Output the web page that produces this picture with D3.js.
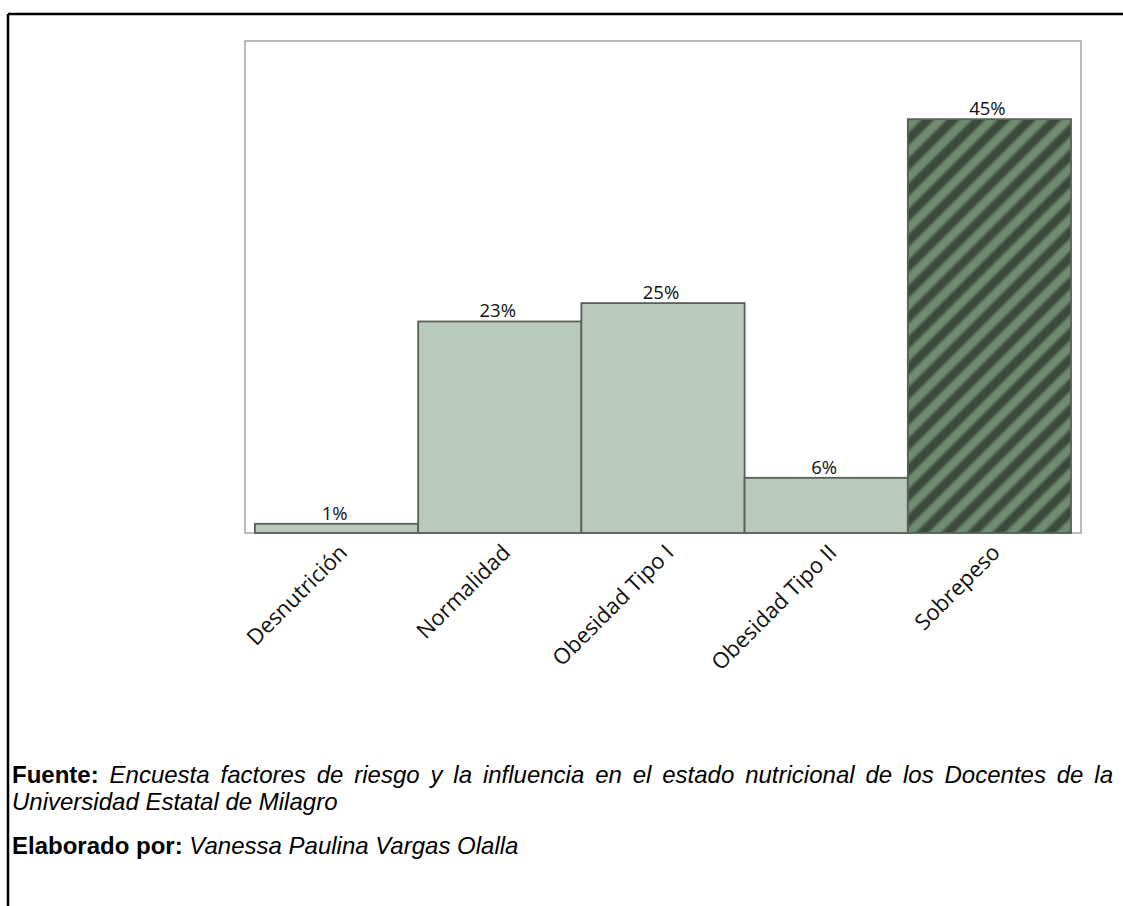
<!DOCTYPE html>
<html>
<head>
<meta charset="utf-8">
<script src="https://cdn.jsdelivr.net/npm/d3@7"></script>
<style>
  html, body { margin: 0; padding: 0; background: #fff; }
  svg { display: block; }
</style>
</head>
<body>
<script>
// Estado nutricional de los docentes (porcentaje)
const categories = ["Desnutrición", "Normalidad", "Obesidad Tipo I", "Obesidad Tipo II", "Sobrepeso"];
const percentages = [1, 23, 25, 6, 45];
const valueLabels = ["1%", "23%", "25%", "6%", "45%"];
const hatched = ["Sobrepeso"];

const W = 1123, H = 906;
const frame = { left: 245, right: 1081, top: 41, bottom: 533 };

const svg = d3.select("body").append("svg")
  .attr("width", W).attr("height", H);

// striped fill for the highlighted category
const defs = svg.append("defs");
const grad = defs.append("linearGradient")
  .attr("id", "stripeGrad").attr("x1", 0).attr("x2", 1).attr("y1", 0).attr("y2", 0);
[[0, "#3b4a3c"], [0.3, "#3b4a3c"], [0.5, "#6f8b70"], [0.8, "#6f8b70"], [1, "#3b4a3c"]]
  .forEach(([o, c]) => grad.append("stop").attr("offset", o).attr("stop-color", c));
const pat = defs.append("pattern")
  .attr("id", "stripes").attr("patternUnits", "userSpaceOnUse")
  .attr("width", 18).attr("height", 18)
  .attr("patternTransform", "rotate(45)");
pat.append("rect").attr("width", 18).attr("height", 18).attr("fill", "url(#stripeGrad)");

// outer page border (left and top)
svg.append("line").attr("x1", 8).attr("y1", 14).attr("x2", W).attr("y2", 14)
  .attr("stroke", "#000").attr("stroke-width", 2.5);
svg.append("line").attr("x1", 8).attr("y1", 14).attr("x2", 8).attr("y2", H)
  .attr("stroke", "#000").attr("stroke-width", 2.5);

const x = d3.scaleBand()
  .domain(categories)
  .range([frame.left, frame.right])
  .paddingInner(0)
  .paddingOuter(0.061);

const y = d3.scaleLinear()
  .domain([0, 53.5])
  .range([frame.bottom, frame.top]);

// plot frame
svg.append("rect")
  .attr("x", frame.left).attr("y", frame.top)
  .attr("width", frame.right - frame.left).attr("height", frame.bottom - frame.top)
  .attr("fill", "none").attr("stroke", "#ababab").attr("stroke-width", 1.6);

// bars
svg.append("g").selectAll("rect")
  .data(categories)
  .join("rect")
  .attr("x", d => x(d))
  .attr("y", (d, i) => y(percentages[i]))
  .attr("width", x.bandwidth())
  .attr("height", (d, i) => y(0) - y(percentages[i]))
  .attr("fill", d => hatched.includes(d) ? "url(#stripes)" : "#b9cabc")
  .attr("stroke", "#586157")
  .attr("stroke-width", 1.8);

// value labels
svg.append("g").selectAll("text")
  .data(categories)
  .join("text")
  .attr("x", d => x(d) + x.bandwidth() / 2 - 2)
  .attr("y", (d, i) => y(percentages[i]) - 4)
  .attr("text-anchor", "middle")
  .attr("font-family", "'Open Sans', sans-serif")
  .attr("font-size", 18.5)
  .attr("fill", "#111")
  .text((d, i) => valueLabels[i]);

// category axis, rotated labels
const xAxis = svg.append("g")
  .attr("transform", `translate(0,${frame.bottom})`)
  .call(d3.axisBottom(x).tickSize(0).tickPadding(0));
xAxis.select(".domain").remove();
xAxis.selectAll("text")
  .attr("font-family", "'Open Sans', sans-serif")
  .attr("font-size", 22)
  .attr("fill", "#111")
  .attr("text-anchor", "end")
  .attr("dy", 0)
  .attr("y", 0)
  .attr("transform", "translate(12,21) rotate(-45)");

// source notes
const notes = svg.append("g")
  .attr("font-family", "'Liberation Sans', Arial, sans-serif")
  .attr("font-size", 24)
  .attr("fill", "#000");

const line1 = notes.append("text").attr("x", 12).attr("y", 783);
line1.append("tspan").attr("font-weight", "bold").text("Fuente: ");
line1.append("tspan").attr("font-style", "italic")
  .text("Encuesta factores de riesgo y la influencia en el estado nutricional de los Docentes de la");

// justify the first line across the text block
const targetWidth = 1113 - 12;
const natural = line1.node().getComputedTextLength();
const gaps = (line1.text().match(/ /g) || []).length;
if (gaps > 0) line1.attr("word-spacing", (targetWidth - natural) / gaps);

notes.append("text").attr("x", 12).attr("y", 810)
  .attr("font-style", "italic")
  .text("Universidad Estatal de Milagro");

const line3 = notes.append("text").attr("x", 12).attr("y", 854);
line3.append("tspan").attr("font-weight", "bold").text("Elaborado por: ");
line3.append("tspan").attr("font-style", "italic").text("Vanessa Paulina Vargas Olalla");
</script>
</body>
</html>
